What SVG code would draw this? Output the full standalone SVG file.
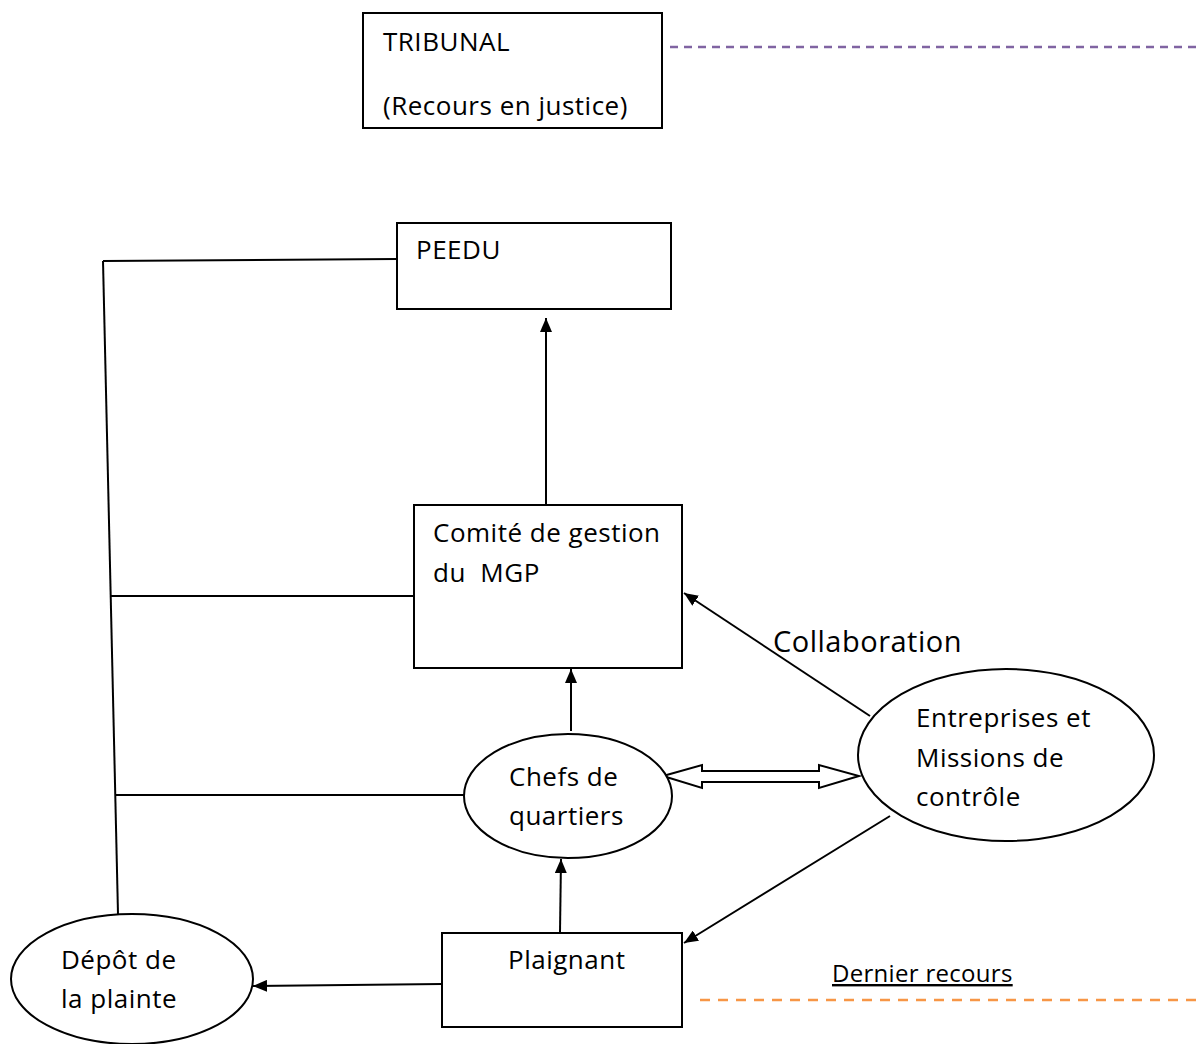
<svg xmlns="http://www.w3.org/2000/svg" width="1199" height="1044" viewBox="0 0 1199 1044">
<defs>
<marker id="ah" viewBox="0 0 14 12" refX="14" refY="6" markerWidth="14" markerHeight="12" markerUnits="userSpaceOnUse" orient="auto"><path d="M0,0 L14,6 L0,12 z" fill="#000"/></marker>
</defs>
<style>
.n{fill:#fff;stroke:#000;stroke-width:2}
.t{font-family:"Open Sans","Lato",sans-serif;font-size:26px;letter-spacing:0.5px;fill:#000;font-variant-ligatures:none;white-space:pre}
.c{fill:none;stroke:#000;stroke-width:2}
.a{fill:none;stroke:#000;stroke-width:2;marker-end:url(#ah)}
</style>
<rect width="1199" height="1044" fill="#fff"/>
<g id="connectors">
<line class="c" x1="103" y1="261" x2="397" y2="259"/>
<line class="c" x1="103" y1="261" x2="118" y2="914"/>
<line class="c" x1="111" y1="596" x2="414" y2="596"/>
<line class="c" x1="116" y1="795" x2="464" y2="795"/>
<line class="a" x1="546" y1="504" x2="546" y2="318"/>
<line class="a" x1="571" y1="731" x2="571" y2="669"/>
<line class="a" x1="870" y1="716" x2="684" y2="593"/>
<line class="a" x1="890" y1="816" x2="684" y2="943"/>
<line class="a" x1="560" y1="932" x2="561" y2="859"/>
<line class="a" x1="442" y1="984" x2="253" y2="986"/>
<path class="n" d="M663,776 L702,765 L702,771 L819,771 L819,765 L859,776 L819,788 L819,782 L702,782 L702,788 Z"/>
<line x1="670" y1="47" x2="1199" y2="47" stroke="#8064a2" stroke-width="2.5" stroke-dasharray="8,6"/>
<line x1="700" y1="1000" x2="1199" y2="1000" stroke="#f79646" stroke-width="2.5" stroke-dasharray="10,8"/>
</g>
<g id="tribunal">
<rect class="n" x="363" y="13" width="299" height="115"/>
<text class="t" x="383" y="51">TRIBUNAL</text>
<text class="t" x="383" y="115">(Recours en justice)</text>
</g>
<g id="peedu">
<rect class="n" x="397" y="223" width="274" height="86"/>
<text class="t" x="416" y="259">PEEDU</text>
</g>
<g id="comite">
<rect class="n" x="414" y="505" width="268" height="163"/>
<text class="t" x="433" y="542">Comité de gestion</text>
<text class="t" x="433" y="582">du  MGP</text>
</g>
<g id="chefs">
<ellipse class="n" cx="568" cy="796" rx="104" ry="62"/>
<text class="t" x="509" y="786">Chefs de</text>
<text class="t" x="509" y="825">quartiers</text>
</g>
<g id="entreprises">
<ellipse class="n" cx="1006" cy="755" rx="148" ry="86"/>
<text class="t" x="916" y="727">Entreprises et</text>
<text class="t" x="916" y="767">Missions de</text>
<text class="t" x="916" y="806">contrôle</text>
</g>
<g id="plaignant">
<rect class="n" x="442" y="933" width="240" height="94"/>
<text class="t" x="508" y="969">Plaignant</text>
</g>
<g id="depot">
<ellipse class="n" cx="132" cy="979" rx="121" ry="65"/>
<text class="t" x="61" y="969">Dépôt de</text>
<text class="t" x="61" y="1008">la plainte</text>
</g>
<g id="labels">
<text class="t" x="773" y="652" style="font-size:29px">Collaboration</text>
<text class="t" x="832" y="982" style="font-size:24px;letter-spacing:0.3px;text-decoration:underline">Dernier recours</text>
</g>
</svg>
